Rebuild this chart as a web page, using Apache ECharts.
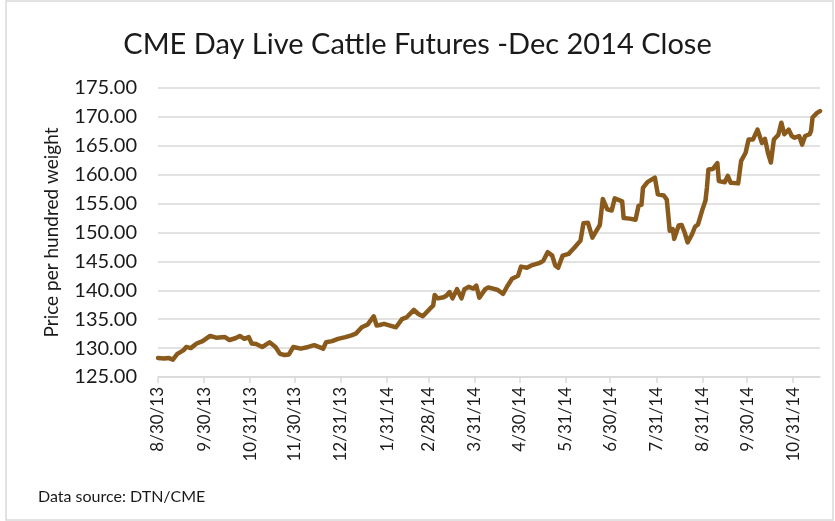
<!DOCTYPE html>
<html>
<head>
<meta charset="utf-8">
<script src="https://cdn.jsdelivr.net/npm/echarts@6/dist/echarts.min.js"></script>
<style>
  html, body { margin: 0; padding: 0; background: #fff; }
  #chart { width: 835px; height: 521px; }
</style>
</head>
<body>
<div id="chart"></div>
<script>
// daily close
var dates = [
  '2013-08-30','2013-09-03','2013-09-06','2013-09-09','2013-09-12','2013-09-16','2013-09-18','2013-09-21','2013-09-25','2013-09-29',
  '2013-10-04','2013-10-08','2013-10-14','2013-10-17','2013-10-21','2013-10-24','2013-10-27','2013-10-30',
  '2013-11-01','2013-11-04','2013-11-08','2013-11-10','2013-11-13','2013-11-17','2013-11-20','2013-11-23','2013-11-26','2013-11-29',
  '2013-12-04','2013-12-09','2013-12-13','2013-12-19','2013-12-21','2013-12-25','2013-12-29',
  '2014-01-03','2014-01-07','2014-01-10','2014-01-14','2014-01-18','2014-01-22','2014-01-24','2014-01-26','2014-01-29',
  '2014-02-02','2014-02-06','2014-02-10','2014-02-13','2014-02-18','2014-02-21','2014-02-24','2014-02-28',
  '2014-03-03','2014-03-04','2014-03-06','2014-03-10','2014-03-12','2014-03-14','2014-03-16','2014-03-19','2014-03-22','2014-03-24','2014-03-27','2014-03-30',
  '2014-04-01','2014-04-03','2014-04-07','2014-04-09','2014-04-15','2014-04-19','2014-04-22','2014-04-25','2014-04-29',
  '2014-05-01','2014-05-05','2014-05-08','2014-05-12','2014-05-14','2014-05-16','2014-05-19','2014-05-22','2014-05-24','2014-05-26','2014-05-29',
  '2014-06-02','2014-06-06','2014-06-10','2014-06-12','2014-06-15','2014-06-18','2014-06-20','2014-06-23','2014-06-25','2014-06-28',
  '2014-07-01','2014-07-03','2014-07-08','2014-07-09','2014-07-13','2014-07-17','2014-07-19','2014-07-21','2014-07-22','2014-07-25','2014-07-30',
  '2014-08-01','2014-08-05','2014-08-07','2014-08-09','2014-08-11','2014-08-12','2014-08-15','2014-08-17','2014-08-19','2014-08-21','2014-08-24','2014-08-26','2014-08-28','2014-08-31',
  '2014-09-02','2014-09-03','2014-09-04','2014-09-07','2014-09-10','2014-09-11','2014-09-15','2014-09-17','2014-09-19','2014-09-24','2014-09-26','2014-09-29',
  '2014-10-01','2014-10-04','2014-10-07','2014-10-10','2014-10-12','2014-10-14','2014-10-16','2014-10-18','2014-10-21','2014-10-23','2014-10-25','2014-10-28','2014-10-30',
  '2014-11-01','2014-11-04','2014-11-06','2014-11-08','2014-11-11','2014-11-12','2014-11-13','2014-11-16','2014-11-18'
];
var closes = [
  128.3,128.2,128.3,128.0,129.0,129.6,130.2,130.0,130.8,131.2,
  132.1,131.8,131.9,131.4,131.7,132.1,131.6,131.9,
  130.8,130.7,130.2,130.5,131.0,130.2,129.0,128.8,128.9,130.2,
  129.9,130.2,130.5,129.9,131.0,131.2,131.6,
  131.9,132.2,132.5,133.6,134.1,135.5,133.9,134.0,134.2,
  133.9,133.6,135.0,135.3,136.6,135.9,135.5,136.6,
  137.4,139.2,138.6,138.8,139.1,139.7,138.6,140.2,138.6,140.2,140.6,140.3,
  140.8,138.7,140.2,140.5,140.1,139.4,140.8,142.0,142.5,
  144.1,143.9,144.3,144.6,144.8,145.1,146.6,146.0,144.3,143.9,146.0,
  146.3,147.4,148.6,151.6,151.7,149.1,150.0,151.3,155.8,154.0,
  153.8,155.9,155.4,152.5,152.4,152.2,154.6,154.8,157.7,158.7,159.5,
  156.6,156.4,155.7,150.3,150.6,148.9,151.2,151.3,150.0,148.3,149.7,151.0,151.4,154.0,
  155.5,157.8,160.9,161.0,162.0,158.9,158.7,159.8,158.6,158.5,162.4,163.8,
  166.1,166.1,167.8,165.5,166.2,163.8,162.1,166.1,166.9,169.0,167.0,167.8,166.7,
  166.4,166.7,165.2,166.7,167.0,167.6,169.9,170.7,171.0
];
// month-end tick labels
var tickDates = [
  '2013-08-30','2013-09-30','2013-10-31','2013-11-30','2013-12-31','2014-01-31','2014-02-28',
  '2014-03-31','2014-04-30','2014-05-31','2014-06-30','2014-07-31','2014-08-31','2014-09-30','2014-10-31'
];

function ts(s) {
  var p = s.split('-');
  return new Date(+p[0], p[1] - 1, +p[2]).getTime();
}

var seriesData = dates.map(function (d, i) { return [ts(d), closes[i]]; });
var ticks = tickDates.map(ts);

var myChart = echarts.init(document.getElementById('chart'));
var option = {
  animation: false,
  backgroundColor: '#fff',
  title: {
    text: 'CME Day Live Cattle Futures -Dec 2014 Close',
    left: 'center',
    top: 25,
    textStyle: {
      fontFamily: 'Lato',
      fontSize: 29,
      fontWeight: 'normal',
      color: '#1a1a1a'
    }
  },
  graphic: [{
    type: 'rect',
    shape: { x: 6, y: 1, width: 827, height: 519 },
    style: { fill: 'none', stroke: '#d9d9d9', lineWidth: 1.5 },
    silent: true
  }, {
    type: 'text',
    left: 38,
    top: 489,
    style: {
      text: 'Data source: DTN/CME',
      fontFamily: 'Lato',
      fontSize: 16,
      fill: '#1a1a1a'
    }
  }],
  grid: {
    left: 158,
    right: 15,
    top: 88,
    bottom: 144
  },
  xAxis: {
    // timestamps on a plain value axis so ticks can sit on month ends
    type: 'value',
    min: ts(dates[0]),
    max: ts(dates[dates.length - 1]),
    axisLine: { show: true, lineStyle: { color: '#d9d9d9', width: 1.5 } },
    axisTick: {
      show: true,
      customValues: ticks,
      length: 6,
      lineStyle: { color: '#d9d9d9', width: 1.5 }
    },
    axisLabel: {
      customValues: ticks,
      rotate: 90,
      margin: 10,
      fontFamily: 'Lato',
      fontSize: 17,
      color: '#1a1a1a',
      showMaxLabel: true,
      showMinLabel: true,
      formatter: function (v) {
        var d = new Date(v);
        return (d.getMonth() + 1) + '/' + d.getDate() + '/' + String(d.getFullYear()).slice(2);
      }
    },
    splitLine: { show: false }
  },
  yAxis: {
    type: 'value',
    min: 125,
    max: 175,
    interval: 5,
    name: 'Price per hundred weight',
    nameLocation: 'middle',
    nameGap: 97,
    nameTextStyle: {
      fontFamily: 'Lato',
      fontSize: 19,
      color: '#1a1a1a'
    },
    axisLine: { show: false },
    axisTick: { show: false },
    axisLabel: {
      margin: 21,
      fontFamily: 'Lato',
      fontSize: 20,
      color: '#1a1a1a',
      formatter: function (v) { return v.toFixed(2); }
    },
    splitLine: { lineStyle: { color: '#d9d9d9', width: 1.5 } }
  },
  series: [{
    name: 'Close',
    type: 'line',
    data: seriesData,
    showSymbol: false,
    symbol: 'none',
    lineStyle: { color: '#8a5a1c', width: 4.5, join: 'round', cap: 'round' }
  }]
};
myChart.setOption(option);
</script>
</body>
</html>
